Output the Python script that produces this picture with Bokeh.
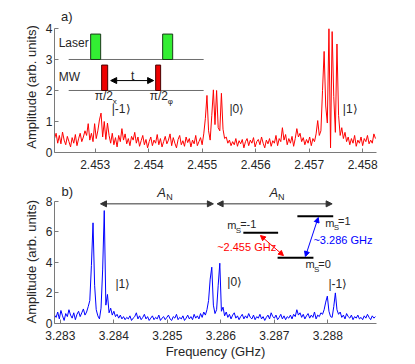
import numpy as np
from bokeh.plotting import figure
from bokeh.layouts import column
from bokeh.models import Range1d, FixedTicker, NumeralTickFormatter, Arrow, NormalHead
from bokeh.core.properties import value
from bokeh.embed import file_html
from bokeh.resources import INLINE

FONT = "Liberation Sans"

# ---------------- data ----------------
freq_step = 0.00003
freq_a_start = 2.45224
freq_b_start = 3.28289

amp_a = [
    0.45, 0.62, 0.30, 0.55, 0.28, 0.66, 0.40, 0.25, 0.52, 0.35,
    0.18, 0.48, 0.30, 0.58, 0.22, 0.44, 0.62, 0.35, 0.50, 0.70,
    0.55, 0.93, 0.40, 0.62, 0.35, 0.93, 0.45, 0.70, 1.05, 1.27,
    0.50, 1.00, 0.42, 0.95, 0.55, 0.30, 0.62, 0.25, 0.48, 0.18,
    0.55, 0.35, 0.77, 0.40, 0.60, 0.28, 0.45, 0.22, 0.52, 0.40,
    0.65, 0.30, 0.50, 0.20, 0.38, 0.55, 0.25, 0.42, 0.15, 0.35,
    0.50, 0.22, 0.40, 0.30, 0.58, 0.25, 0.45, 0.18, 0.35, 0.52,
    0.28, 0.40, 0.60, 0.22, 0.48, 0.30, 0.15, 0.42, 0.55, 0.25,
    0.38, 0.20, 0.50, 0.32, 0.45, 0.18, 0.40, 0.28, 0.55, 0.22,
    0.35, 0.48, 0.25, 0.60, 1.10, 1.84, 0.70, 0.40, 1.20, 2.02,
    0.90, 2.00, 0.80, 0.70, 1.91, 0.75, 0.45, 0.50, 0.30, 0.40,
    0.22, 0.35, 0.25, 0.45, 0.20, 0.38, 0.28, 0.42, 0.15, 0.35,
    0.45, 0.22, 0.40, 0.30, 0.48, 0.18, 0.35, 0.42, 0.25, 0.50,
    0.30, 0.15, 0.40, 0.28, 0.45, 0.20, 0.38, 0.30, 0.55, 0.22,
    0.45, 0.35, 0.80, 0.40, 0.58, 0.25, 0.45, 0.30, 0.52, 0.20,
    0.45, 0.77, 0.50, 0.62, 0.35, 0.48, 0.25, 0.42, 0.30, 0.50,
    0.22, 0.45, 0.35, 0.60, 1.03, 0.55, 0.70, 2.00, 3.26, 1.50,
    0.95, 3.99, 0.15, 3.90, 1.80, 0.65, 3.50, 1.20, 0.55, 0.80,
    0.45, 0.65, 0.35, 0.50, 0.25, 0.45, 0.30, 0.55, 0.20, 0.40,
    0.30, 0.50, 0.22, 0.45, 0.35, 0.55, 0.28, 0.40, 0.30, 0.60,
    0.45,
]

amp_b = [
    0.55, 0.40, 0.75, 0.30, 0.85, 0.50, 0.20, 0.65, 0.45, 0.90,
    0.55, 0.35, 0.70, 0.25, 0.60, 0.80, 0.45, 0.70, 0.95, 0.55,
    0.75, 1.10, 1.50, 3.80, 6.58, 2.50, 0.90, 0.50, 0.30, 1.00,
    3.50, 7.38, 1.20, 1.90, 0.70, 1.00, 0.55, 0.80, 0.45, 0.60,
    0.35, 0.55, 0.30, 0.45, 0.25, 0.40, 0.30, 0.50, 0.20, 0.35,
    0.45, 0.70, 0.30, 0.50, 0.25, 0.40, 0.60, 0.30, 0.45, 0.20,
    0.35, 0.50, 0.25, 0.40, 0.30, 0.55, 0.20, 0.35, 0.45, 0.25,
    0.40, 0.55, 0.30, 0.20, 0.45, 0.35, 0.60, 0.25, 0.40, 0.30,
    0.50, 0.20, 0.35, 0.55, 0.30, 0.45, 0.25, 0.60, 0.35, 0.50,
    0.30, 0.65, 0.40, 0.75, 0.55, 0.90, 1.50, 2.90, 3.68, 1.20,
    0.65, 0.90, 2.50, 3.94, 0.80, 1.07, 0.50, 0.75, 0.40, 0.60,
    0.30, 0.55, 0.70, 0.35, 0.50, 0.25, 0.45, 0.60, 0.30, 0.50,
    0.35, 0.65, 0.40, 0.30, 0.55, 0.25, 0.45, 0.35, 0.60, 0.30,
    0.45, 0.20, 0.40, 0.55, 0.30, 0.70, 0.45, 0.35, 0.55, 0.25,
    0.40, 0.60, 0.30, 0.50, 0.25, 0.45, 0.35, 0.55, 0.30, 0.60,
    0.45, 0.90, 0.55, 0.70, 0.40, 0.60, 0.30, 0.50, 0.65, 0.35,
    0.55, 0.40, 0.75, 0.30, 0.55, 0.45, 0.70, 0.60, 0.90, 1.40,
    1.79, 0.80, 0.45, 0.40, 1.10, 2.00, 0.90, 0.60, 0.75, 0.40,
    0.55, 0.30, 0.65, 0.45, 0.35, 0.55, 0.25, 0.45, 0.35, 0.55,
    0.30, 0.40, 0.25, 0.50, 0.35, 0.60, 0.40, 0.25, 0.50, 0.35,
    0.45,
]

xticks_a = [2.453, 2.454, 2.455, 2.456, 2.457, 2.458]
xticks_b = [3.283, 3.284, 3.285, 3.286, 3.287, 3.288]
yticks_a = [0, 1, 2, 3, 4]
yticks_b = [0, 2, 4, 6, 8]

freq_a = freq_a_start + freq_step * np.arange(len(amp_a))
freq_b = freq_b_start + freq_step * np.arange(len(amp_b))

AXIS_COL = "#7a7a7a"
TXT_COL = "#262626"
NB = "\u00a0"


def style(p, xticks, yticks, ybounds, ylabel):
    p.outline_line_color = None
    p.xgrid.visible = False
    p.ygrid.visible = False
    for ax in list(p.xaxis) + list(p.yaxis):
        ax.axis_line_color = AXIS_COL
        ax.major_tick_line_color = AXIS_COL
        ax.major_tick_in = 4
        ax.major_tick_out = 0
        ax.minor_tick_line_color = None
        ax.major_label_text_font = FONT
        ax.major_label_text_font_size = "12px"
        ax.major_label_text_color = TXT_COL
        ax.axis_label_text_font = FONT
        ax.axis_label_text_font_size = "13px"
        ax.axis_label_text_font_style = "normal"
        ax.axis_label_text_color = TXT_COL
    p.xaxis.ticker = FixedTicker(ticks=xticks)
    p.xaxis.formatter = NumeralTickFormatter(format="0.000")
    p.xaxis.major_label_standoff = 7
    p.yaxis.ticker = FixedTicker(ticks=yticks)
    p.yaxis.bounds = ybounds
    p.yaxis.major_label_standoff = 2
    p.yaxis.axis_label = ylabel
    p.yaxis.axis_label_standoff = 4


def txt(p, x, y, s, size="12px", color=TXT_COL, align="left", style_="normal"):
    p.text(x=[x], y=[y], text=[s], text_font=value(FONT), text_font_size=value(size),
           text_color=color, text_align=align, text_baseline="middle",
           text_font_style=style_)


def arrow(p, x0, y0, x1, y1, color="black", size=6):
    p.add_layout(Arrow(x_start=x0, y_start=y0, x_end=x1, y_end=y1,
                       line_color=color, line_width=1,
                       start=NormalHead(size=size, fill_color=color, line_color=color),
                       end=NormalHead(size=size, fill_color=color, line_color=color)))


# ---------------- panel a ----------------
pa = figure(width=400, height=180, output_backend="svg", toolbar_location=None,
            x_range=Range1d(2.45224, 2.458259), y_range=Range1d(0, 4.58),
            min_border_left=54, min_border_right=24, min_border_top=10, min_border_bottom=28)
style(pa, xticks_a, yticks_a, (0, 4), "Amplitude (arb. units)" + NB * 3)

pa.line(freq_a, amp_a, line_color="#ff0000", line_width=1)

# pulse sequence inset
pa.segment(x0=[2.452505, 2.452505], y0=[3, 2], x1=[2.455028, 2.455028], y1=[3, 2],
           line_color="#6e6e6e", line_width=1)
pa.quad(left=[2.452916, 2.454262], right=[2.453103, 2.454449], bottom=[3, 3], top=[3.82, 3.82],
        fill_color="#33ee33", line_color="#1a3a1a", line_width=1)
pa.quad(left=[2.453121, 2.454131], right=[2.453234, 2.454224], bottom=[2, 2], top=[2.82, 2.82],
        fill_color="#ee0000", line_color="#4a0000", line_width=1)
arrow(pa, 2.45329, 2.32, 2.454093, 2.32)
txt(pa, 2.453701, 2.47, "t", "12px", align="center")
txt(pa, 2.452318, 3.52, "Laser", "12px")
txt(pa, 2.452318, 2.45, "MW", "12px")
txt(pa, 2.452991, 1.83, "π/2", "12px")
txt(pa, 2.453327, 1.66, "x", "8px")
txt(pa, 2.454019, 1.83, "π/2", "12px")
txt(pa, 2.454355, 1.66, "φ", "8px")
txt(pa, 2.45331, 1.39, "|-1⟩", "12px")
txt(pa, 2.45551, 1.39, "|0⟩", "12px")
txt(pa, 2.45763, 1.39, "|1⟩", "12px")
txt(pa, 2.45236, 4.39, "a)", "13px")

# ---------------- panel b ----------------
pb = figure(width=400, height=182, output_backend="svg", toolbar_location=None,
            x_range=Range1d(3.28289, 3.288909), y_range=Range1d(0, 9.02),
            min_border_left=54, min_border_right=24, min_border_top=5, min_border_bottom=39)
style(pb, xticks_b, yticks_b, (0, 8), "Amplitude (arb. units)" + NB * 4)
pb.xaxis.axis_label = "Frequency (GHz)"
pb.xaxis.axis_label_standoff = 1

pb.line(freq_b, amp_b, line_color="#0000ff", line_width=1)

# hyperfine splitting arrows
arrow(pb, 3.28375, 7.82, 3.28586, 7.82, color="#333333")
arrow(pb, 3.28593, 7.82, 3.28808, 7.82, color="#333333")
txt(pb, 3.28481, 8.56, "A", "13px", style_="italic")
txt(pb, 3.28498, 8.24, "N", "9px")
txt(pb, 3.28691, 8.56, "A", "13px", style_="italic")
txt(pb, 3.28707, 8.24, "N", "9px")

# energy level scheme
pb.segment(x0=[3.28642, 3.28743, 3.28706], y0=[5.93, 7.01, 4.29],
           x1=[3.28707, 3.28810, 3.28773], y1=[5.93, 7.01, 4.29],
           line_color="black", line_width=2)
txt(pb, 3.28612, 6.44, "m", "11px")
txt(pb, 3.28628, 6.08, "S", "8px")
txt(pb, 3.28636, 6.5, "=-1", "11px")
txt(pb, 3.28795, 6.6, "m", "11px")
txt(pb, 3.28811, 6.25, "S", "8px")
txt(pb, 3.28819, 6.67, "=1", "11px")
txt(pb, 3.28758, 3.89, "m", "11px")
txt(pb, 3.28774, 3.55, "S", "8px")
txt(pb, 3.28782, 3.92, "=0", "11px")

arrow(pb, 3.28674, 5.75, 3.28717, 4.44, color="#ff0000", size=5)
arrow(pb, 3.28782, 6.93, 3.28758, 4.38, color="#0000ff", size=5)
txt(pb, 3.28593, 4.97, "~2.455 GHz", "11px", color="#ff0000")
txt(pb, 3.28773, 5.49, "~3.286 GHz", "11px", color="#0000ff")

txt(pb, 3.28403, 2.61, "|1⟩", "12px")
txt(pb, 3.28612, 2.68, "|0⟩", "12px")
txt(pb, 3.28801, 2.61, "|-1⟩", "12px")
txt(pb, 3.28302, 8.63, "b)", "13px")

layout = column(pa, pb, spacing=0)
open("out.html", "w").write(file_html(layout, INLINE))
